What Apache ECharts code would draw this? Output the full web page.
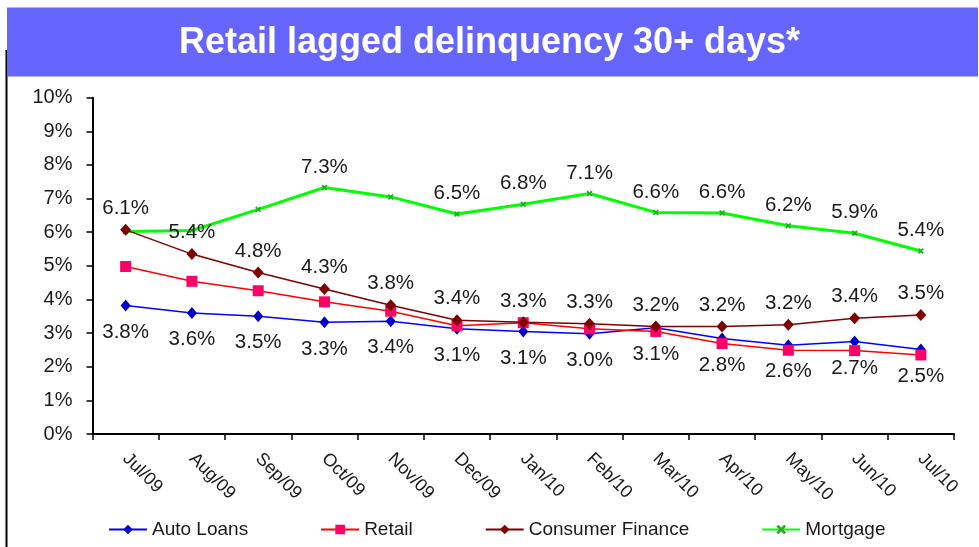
<!DOCTYPE html>
<html>
<head>
<meta charset="utf-8">
<script src="https://cdn.jsdelivr.net/npm/echarts@6/dist/echarts.min.js"></script>
<style>
  html, body { margin: 0; padding: 0; background: #fff; }
  #chart { width: 979px; height: 547px; }
</style>
</head>
<body>
<div id="chart"></div>
<script>
// 月份
const months = ['Jul/09', 'Aug/09', 'Sep/09', 'Oct/09', 'Nov/09', 'Dec/09', 'Jan/10',
  'Feb/10', 'Mar/10', 'Apr/10', 'May/10', 'Jun/10', 'Jul/10']

// 各系列数值（%）
const autoLoans = [3.82, 3.6, 3.5, 3.32, 3.35, 3.13, 3.05, 2.98, 3.16, 2.84, 2.64, 2.75, 2.51]
const retail = [4.98, 4.54, 4.26, 3.93, 3.65, 3.22, 3.31, 3.13, 3.05, 2.69, 2.49, 2.48, 2.35]
const consumerFinance = [6.07, 5.35, 4.8, 4.31, 3.83, 3.38, 3.32, 3.28, 3.2, 3.2, 3.25, 3.44, 3.54]
const mortgage = [6.02, 6.05, 6.68, 7.33, 7.05, 6.54, 6.83, 7.15, 6.59, 6.57, 6.19, 5.97, 5.44]

// 数据标签文字
const autoLabels = ['3.8%', '3.6%', '3.5%', '3.3%', '3.4%', '3.1%', '3.1%', '3.0%', '3.1%', '2.8%', '2.6%', '2.7%', '2.5%']
const cfLabels = ['6.1%', '5.4%', '4.8%', '4.3%', '3.8%', '3.4%', '3.3%', '3.3%', '3.2%', '3.2%', '3.2%', '3.4%', '3.5%']
const mortgageLabels = ['', '', '', '7.3%', '', '6.5%', '6.8%', '7.1%', '6.6%', '6.6%', '6.2%', '5.9%', '5.4%']

const FONT = 'Liberation Sans, Arial, sans-serif'

const chart = echarts.init(document.getElementById('chart'))

function labelOf(arr, pos, dist) {
  return {
    show: true,
    position: pos,
    distance: dist,
    color: '#1a1a1a',
    fontFamily: FONT,
    fontSize: 20.5,
    formatter: p => arr[p.dataIndex]
  }
}

const option = {
  animation: false,
  backgroundColor: '#fff',
  graphic: [
    // 左侧黑线
    { type: 'line', shape: { x1: 6.5, y1: 50, x2: 6.5, y2: 547 }, style: { stroke: '#000', lineWidth: 2 } },
    // 标题背景
    { type: 'rect', shape: { x: 7, y: 7.5, width: 971, height: 69 }, style: { fill: '#6666FF' } }
  ],
  title: {
    text: 'Retail lagged delinquency 30+ days*',
    left: 'center',
    top: 20,
    textStyle: {
      color: '#fff',
      fontFamily: FONT,
      fontWeight: 'bold',
      fontSize: 36
    }
  },
  grid: {
    left: 92.5,
    right: 25,
    top: 97.7,
    bottom: 113
  },
  legend: {
    bottom: 3,
    left: 103,
    itemGap: 72,
    itemWidth: 38,
    itemHeight: 12,
    textStyle: { fontFamily: FONT, fontSize: 19, color: '#1a1a1a' },
    data: ['Auto Loans', 'Retail', 'Consumer Finance', 'Mortgage']
  },
  xAxis: {
    type: 'category',
    data: months,
    axisLine: { lineStyle: { color: '#000', width: 2 } },
    axisTick: { show: true, length: 6, lineStyle: { color: '#000', width: 1.5 } },
    axisLabel: {
      interval: 0,
      rotate: -45,
      margin: 22,
      color: '#1a1a1a',
      fontFamily: FONT,
      fontSize: 18
    }
  },
  yAxis: {
    type: 'value',
    min: 0,
    max: 10,
    interval: 1,
    splitLine: { show: false },
    axisLine: { show: true, lineStyle: { color: '#000', width: 2 } },
    axisTick: { show: true, length: 6, lineStyle: { color: '#000', width: 1.5 } },
    axisLabel: {
      formatter: '{value}%',
      margin: 20,
      color: '#1a1a1a',
      fontFamily: FONT,
      fontSize: 20
    }
  },
  series: [
    {
      name: 'Auto Loans',
      type: 'line',
      data: autoLoans,
      symbol: 'diamond',
      symbolSize: [10, 12],
      itemStyle: { color: '#0000CC' },
      lineStyle: { color: '#0000FF', width: 1.5 },
      label: labelOf(autoLabels, 'bottom', 10),
      z: 3
    },
    {
      name: 'Retail',
      type: 'line',
      data: retail,
      symbol: 'rect',
      symbolSize: 11,
      itemStyle: { color: '#FF0066' },
      lineStyle: { color: '#FF0000', width: 1.5 },
      z: 4
    },
    {
      name: 'Consumer Finance',
      type: 'line',
      data: consumerFinance,
      symbol: 'diamond',
      symbolSize: [11, 12],
      itemStyle: { color: '#800000' },
      lineStyle: { color: '#800000', width: 1.5 },
      label: labelOf(cfLabels, 'top', 5),
      z: 5
    },
    {
      name: 'Mortgage',
      type: 'line',
      data: mortgage,
      symbol: 'path://M0,1L1,0L5,4L4,5Z M4,0L5,1L1,5L0,4Z',
      symbolSize: 6,
      itemStyle: { color: '#22AA22' },
      lineStyle: { color: '#00FF00', width: 3 },
      label: labelOf(mortgageLabels, 'top', 7),
      z: 2
    }
  ]
}

chart.setOption(option)
</script>
</body>
</html>
